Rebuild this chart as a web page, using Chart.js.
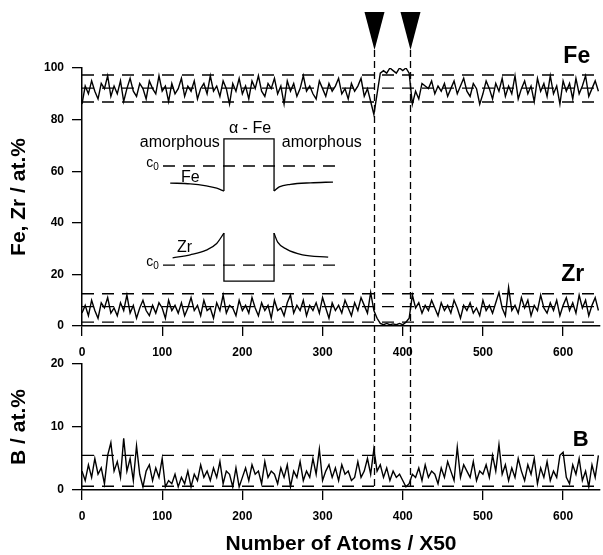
<!DOCTYPE html>
<html>
<head>
<meta charset="utf-8">
<title>Fe, Zr, B concentration profile</title>
<script src="https://cdn.jsdelivr.net/npm/chart.js@4.4.1/dist/chart.umd.min.js"></script>
<style>
  html, body { margin: 0; padding: 0; background: #fff; }
  #wrap { position: relative; width: 603px; height: 555px; }
  #wrap canvas { position: absolute; left: 0; top: 0; }
</style>
</head>
<body>
<div id="wrap">
  <canvas id="feZrChart" width="603" height="555"></canvas>
  <canvas id="bChart" width="603" height="555"></canvas>
</div>
<script>
// Concentration profile, one reading every 4 blocks of 50 atoms
const atomStep = 4;
const xTicks = [0, 100, 200, 300, 400, 500, 600];
const feZrTicks = [0, 20, 40, 60, 80, 100];
const bTicks = [0, 10, 20];

const feValues = [
  86, 93, 90, 95, 91, 88, 94, 92, 97, 89,
  93, 90, 95, 87, 92, 96, 91, 89, 94, 92,
  88, 95, 92, 90, 97, 91, 93, 87, 94, 90,
  92, 96, 89, 93, 91, 95, 88, 92, 94, 90,
  97, 91, 93, 89, 95, 92, 86, 94, 91, 96,
  90, 93, 88, 95, 92, 97, 91, 89, 94, 92,
  96, 90, 93, 86, 95, 91, 94, 89, 92, 97,
  91, 93, 90, 88, 95, 92, 89, 94, 91, 93,
  96, 90, 92, 88, 94, 91, 93, 96, 89, 92,
  87, 82, 90, 98, 99, 98, 100, 99, 98, 100,
  99, 100, 98, 86, 91, 88, 94, 93, 92, 95,
  90, 93, 91, 94, 89, 92, 95, 90, 93, 96,
  91, 89, 94, 92, 86, 90, 95, 92, 88, 94,
  91, 96, 89, 93, 90, 97, 88, 92, 95, 90,
  93, 87, 96, 91, 94, 89, 97, 90, 93, 86,
  95, 91, 94, 88, 96, 90, 93, 97, 89, 92, 95, 91
];

const zrValues = [
  5, 8, 4, 10, 6, 3, 9, 7, 11, 5,
  7, 4, 9, 6, 12, 5, 8, 3, 7, 10,
  6, 4, 8, 5, 9, 7, 3, 10, 6, 8,
  5, 9, 4, 7, 11, 6, 8, 4, 10, 6,
  7, 3, 9, 6, 12, 5, 8, 7, 4, 10,
  6, 8, 5, 11, 7, 4, 9, 6, 8, 3,
  10, 6, 7, 4, 9, 12, 5, 8, 6, 10,
  4, 8, 6, 9, 5, 11, 7, 3, 9, 6,
  8, 5, 10, 7, 4, 9, 6, 11, 8, 5,
  13, 6, 3, 1, 0.5, 1, 0.5, 0.8, 0.5, 1,
  0.5, 1.5, 3, 12, 7, 9, 5, 8, 6, 10,
  7, 4, 9, 6, 8, 5, 10, 7, 3, 8,
  6, 9, 5, 7, 4, 10, 6, 8, 5, 9,
  13, 7, 4, 15, 6, 8, 5, 11, 7, 10,
  4, 8, 6, 12, 7, 5, 9, 6, 10, 4,
  8, 11, 6, 9, 5, 12, 7, 10, 4, 8, 11, 6
];

const bValues = [
  3, 1.5, 4, 2, 5, 2.5, 3.5, 1, 5.5, 7.5,
  3, 4.5, 2, 8.2, 3, 5, 1.5, 7, 2.5, 0.5,
  3, 4, 1.5, 3.5, 2, 5, 0.5, 1.5, 1, 2.5,
  0.5, 2, 1, 3, 0.5, 2.5, 1.5, 4, 2, 3,
  1.5, 3.5, 2, 4.5, 1, 3, 2.5, 0.5, 3.5, 0.5,
  2, 3.5, 1.5, 4, 2.5, 3, 1, 4.5, 2, 3,
  2.5, 1, 3.5, 2, 4, 0.5, 3, 2, 4.5, 1.5,
  3, 2, 5, 2.5, 6.5, 1.5, 3, 4, 2, 3.5,
  1.5, 4, 2.5, 3, 1.5, 2, 4.5, 2, 3, 5,
  2.5, 6.5, 3, 4, 2, 3.5, 1.5, 3, 2, 2.5,
  1.5, 0.5, 1, 2.5, 2, 3.5, 1.5, 4, 2, 3,
  2.5, 1, 3.5, 2, 4.5, 3, 1.5, 6.8, 2, 4,
  3, 2, 4.5, 1.5, 3, 2.5, 4, 2, 5.5, 3,
  7.2, 2.5, 4, 1.5, 3.5, 2, 5, 3, 1.5, 4,
  2.5, 5, 1, 3.5, 2, 4.5, 1.5, 3, 2, 5.5,
  6, 2, 1, 4, 2.5, 5, 1.5, 3, 0.5, 4, 2, 5.5
];

// dashed confidence levels (at.%)
const feLevels = [97.3, 92.2, 86.8];
const zrLevels = [12.5, 7.5, 1.5];
const bLevels = [5.5, 0.6];

// interface positions marked by the arrows
const interfaceAtoms = [364, 409];

// schematic inset (drawn in Fe, Zr axis units)
const insetFeLeft = [[110, 55.4], [135, 55.1], [155, 54.3], [168, 53.4], [177, 52.3]];
const insetFeBox = [[177, 52.3], [177, 72.5], [239.5, 72.5], [239.5, 52.3]];
const insetFeRight = [[239.5, 52.3], [246, 53.9], [260, 54.9], [285, 55.5], [313, 55.8]];
const insetZrLeft = [[113, 26.4], [135, 27.6], [155, 29.4], [168, 32], [177, 36]];
const insetZrBox = [[177, 36], [177, 17.4], [239.5, 17.4], [239.5, 36]];
const insetZrRight = [[239.5, 36], [244, 32.5], [255, 29.8], [275, 27.6], [307, 26.7]];
const insetC0 = [62, 23.6];

const FONT = '"Liberation Sans", Arial, Helvetica, sans-serif';
const xMax = 646;

function toPoints(values) {
  return values.map((v, i) => ({ x: i * atomStep, y: v }));
}

function pairsToPoints(pairs) {
  return pairs.map(p => ({ x: p[0], y: p[1] }));
}

function levelLine(level, from, to) {
  return {
    data: [{ x: from, y: level }, { x: to, y: level }],
    borderColor: '#000',
    borderWidth: 1.4,
    borderDash: [12, 8],
    pointRadius: 0
  };
}

function profileLine(values) {
  return {
    data: toPoints(values),
    borderColor: '#000',
    borderWidth: 1.4,
    pointRadius: 0,
    tension: 0
  };
}

function insetLine(pairs, smooth) {
  return {
    data: pairsToPoints(pairs),
    borderColor: '#000',
    borderWidth: 1.3,
    pointRadius: 0,
    tension: 0,
    cubicInterpolationMode: smooth ? 'monotone' : 'default'
  };
}

// text placed in data units
const textLabels = {
  id: 'textLabels',
  afterDatasetsDraw(chart, args, opts) {
    const { ctx, scales: { x, y } } = chart;
    ctx.save();
    ctx.fillStyle = '#000';
    ctx.textBaseline = 'middle';
    (opts.items || []).forEach(t => {
      const px = x.getPixelForValue(t.x);
      const py = y.getPixelForValue(t.y);
      ctx.font = t.font;
      ctx.textAlign = t.align || 'center';
      ctx.fillText(t.text, px, py);
      if (t.sub) {
        const w = ctx.measureText(t.text).width;
        ctx.font = t.subFont;
        ctx.textAlign = 'left';
        ctx.fillText(t.sub, px + (t.align === 'left' ? w : w / 2), py + 4);
      }
    });
    ctx.restore();
  }
};

// arrows and dashed lines at the two interfaces
const interfaceMarks = {
  id: 'interfaceMarks',
  afterDraw(chart) {
    const { ctx, chartArea, scales: { x } } = chart;
    ctx.save();
    interfaceAtoms.forEach(a => {
      const px = Math.round(x.getPixelForValue(a)) + 0.5;
      ctx.fillStyle = '#000';
      ctx.beginPath();
      ctx.moveTo(px - 10, 12);
      ctx.lineTo(px + 10, 12);
      ctx.lineTo(px, 50);
      ctx.closePath();
      ctx.fill();
      ctx.strokeStyle = '#000';
      ctx.lineWidth = 1.3;
      ctx.setLineDash([7, 4]);
      ctx.beginPath();
      ctx.moveTo(px, 50);
      ctx.lineTo(px, chartArea.bottom);
      ctx.stroke();
      ctx.setLineDash([]);
    });
    ctx.restore();
  }
};

function xScale(height, title) {
  return {
    type: 'linear',
    min: 0,
    max: xMax,
    grid: { drawOnChartArea: false, drawTicks: true, tickLength: 10, color: '#000', lineWidth: 1.3 },
    border: { color: '#000', width: 1.5 },
    ticks: { color: '#000', font: { family: FONT, size: 12, weight: 'bold' }, padding: 9, maxRotation: 0 },
    afterBuildTicks: s => { s.ticks = xTicks.map(v => ({ value: v })); },
    afterFit: s => { s.height = height; },
    title: title ? {
      display: true,
      text: title,
      color: '#000',
      font: { family: FONT, size: 21, weight: 'bold', lineHeight: 1 },
      padding: { top: 0, bottom: 0 }
    } : { display: false }
  };
}

function yScale(max, ticks, title) {
  return {
    min: 0,
    max: max,
    grid: { drawOnChartArea: false, drawTicks: true, tickLength: 10, color: '#000', lineWidth: 1.3 },
    border: { color: '#000', width: 1.5 },
    ticks: { color: '#000', font: { family: FONT, size: 12, weight: 'bold' }, padding: 8 },
    afterBuildTicks: s => { s.ticks = ticks.map(v => ({ value: v })); },
    afterFit: s => { s.width = 82; },
    title: {
      display: true,
      text: title,
      color: '#000',
      font: { family: FONT, size: 21, weight: 'bold', lineHeight: 1.2 },
      padding: { top: 7, bottom: 0 }
    }
  };
}

const baseOptions = {
  responsive: false,
  animation: false,
  devicePixelRatio: 1,
  events: [],
  plugins: { legend: { display: false }, tooltip: { enabled: false } }
};

const smallFont = '16px ' + FONT;
const subFont = '10px ' + FONT;
const bigLabel = 'bold 23px ' + FONT;

new Chart(document.getElementById('feZrChart'), {
  type: 'line',
  data: {
    datasets: [
      ...feLevels.map(l => levelLine(l, 0, xMax)),
      ...zrLevels.map(l => levelLine(l, 0, xMax)),
      profileLine(feValues),
      profileLine(zrValues),
      levelLine(insetC0[0], 101, 318),
      levelLine(insetC0[1], 101, 318),
      insetLine(insetFeLeft, true),
      insetLine(insetFeBox, false),
      insetLine(insetFeRight, true),
      insetLine(insetZrLeft, true),
      insetLine(insetZrBox, false),
      insetLine(insetZrRight, true)
    ]
  },
  options: {
    ...baseOptions,
    layout: { padding: { top: 68, right: 3, left: 0, bottom: 0 } },
    scales: {
      x: xScale(229, null),
      y: yScale(100, feZrTicks, 'Fe, Zr / at.%')
    },
    plugins: {
      ...baseOptions.plugins,
      textLabels: {
        items: [
          { text: 'Fe', x: 617, y: 104.3, font: bigLabel },
          { text: 'Zr', x: 612, y: 19.8, font: bigLabel },
          { text: '\u03b1 - Fe', x: 209.5, y: 76.7, font: smallFont },
          { text: 'amorphous', x: 122, y: 70.9, font: smallFont },
          { text: 'amorphous', x: 299, y: 70.9, font: smallFont },
          { text: 'Fe', x: 135, y: 57.4, font: smallFont },
          { text: 'Zr', x: 128, y: 30.2, font: smallFont },
          { text: 'c', x: 80, y: 63.2, font: '14px ' + FONT, align: 'left', sub: '0', subFont: subFont },
          { text: 'c', x: 80, y: 24.6, font: '14px ' + FONT, align: 'left', sub: '0', subFont: subFont }
        ]
      }
    }
  },
  plugins: [textLabels]
});

new Chart(document.getElementById('bChart'), {
  type: 'line',
  data: {
    datasets: [
      ...bLevels.map(l => levelLine(l, 0, xMax)),
      profileLine(bValues)
    ]
  },
  options: {
    ...baseOptions,
    layout: { padding: { top: 364, right: 3, left: 0, bottom: 0 } },
    scales: {
      x: xScale(65, 'Number of Atoms / X50'),
      y: yScale(20, bTicks, 'B / at.%')
    },
    plugins: {
      ...baseOptions.plugins,
      textLabels: {
        items: [
          { text: 'B', x: 622, y: 7.9, font: 'bold 22px ' + FONT }
        ]
      }
    }
  },
  plugins: [textLabels, interfaceMarks]
});
</script>
</body>
</html>
